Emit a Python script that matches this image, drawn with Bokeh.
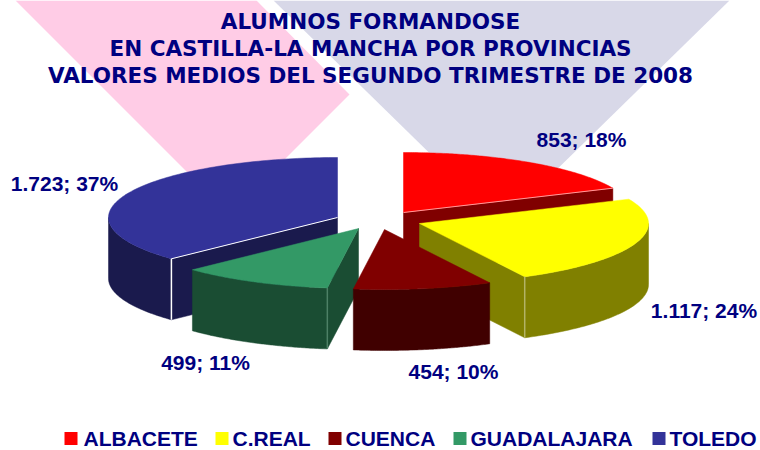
import numpy as np
from bokeh.plotting import figure
from bokeh.models import Range1d
from bokeh.core.properties import value
from bokeh.embed import file_html
from bokeh.resources import INLINE

categories = ["ALBACETE", "C.REAL", "CUENCA", "GUADALAJARA", "TOLEDO"]
values = [853, 1117, 454, 499, 1723]
value_labels = ["853", "1.117", "454", "499", "1.723"]
title_lines = ["ALUMNOS FORMANDOSE",
               "EN CASTILLA-LA MANCHA POR PROVINCIAS",
               "VALORES MEDIOS DEL SEGUNDO TRIMESTRE DE 2008"]

top_colors = ["#FF0000", "#FFFF00", "#800000", "#339966", "#333399"]
side_colors = ["#800000", "#808000", "#400000", "#1A4D33", "#1A1A4D"]
edge_colors = ["#FF9999", "#B3B366", "#400000", "#4D8066", "#FFFFFF"]
apex = [(403, 212), (419, 223), (384, 229), (358, 228), (337, 217)]
label_pos = [(581, 139), (703.5, 310), (453, 371), (205, 362), (64, 183)]
legend_box_x = [64, 215, 328, 453, 652]
legend_text_x = [83, 232, 345, 470, 669]

RX, RY, DEPTH = 229, 60, 61
LEGEND_Y = 438
NAVY = "#000080"
FONT = value("Liberation Sans")
TITLE_FONT = value("DejaVu Sans")

p = figure(width=760, height=450, output_backend="svg", toolbar_location=None,
           x_range=Range1d(0, 760), y_range=Range1d(450, 0),
           min_border=0, outline_line_color=None, margin=(0, 0, 0, 0))
p.xaxis.visible = False
p.yaxis.visible = False
p.grid.visible = False
p.background_fill_color = "#FFFFFF"

# background decoration
p.patch([15, 256, 349, 229], [0, 0, 94, 214], fill_color="#FFCCE6", line_color=None)
p.patch([273, 729, 501], [0, 0, 223], fill_color="#D8D8E8", line_color=None)

# slice angles, clockwise from the top
total = sum(values)
bounds = np.concatenate([[0], np.cumsum(values) / total * 2 * np.pi])


def point(i, t):
    return apex[i][0] + RX * np.sin(t), apex[i][1] - RY * np.cos(t)


def side_arc(i, t0, t1):
    t = np.linspace(t0, t1, 80)
    x, y = point(i, t)
    p.patch(np.r_[x, x[::-1]], np.r_[y, (y + DEPTH)[::-1]],
            fill_color=side_colors[i], line_color=side_colors[i], line_width=0.5)


def cut_face(i, t):
    ax, ay = apex[i]
    x, y = point(i, t)
    p.patch([ax, x, x, ax], [ay, y, y + DEPTH, ay + DEPTH],
            fill_color=side_colors[i], line_color=side_colors[i], line_width=0.5)


def top(i):
    t = np.linspace(bounds[i], bounds[i + 1], 120)
    x, y = point(i, t)
    p.patch(np.r_[apex[i][0], x], np.r_[apex[i][1], y],
            fill_color=top_colors[i], line_color=top_colors[i], line_width=0.5)


def edge_line(i, t, vertical=True, along=True):
    ax, ay = apex[i]
    x, y = point(i, t)
    if along:
        p.line([ax, x], [ay, y], line_color=edge_colors[i], line_width=1)
    if vertical:
        p.line([x, x], [y, y + DEPTH], line_color=edge_colors[i], line_width=1.5)


draw_order = [0, 1, 4, 3, 2]
for i in draw_order:
    t0, t1 = bounds[i], bounds[i + 1]
    lo, hi = max(t0, np.pi / 2), min(t1, 3 * np.pi / 2)
    if hi > lo:
        side_arc(i, lo, hi)
    if i in (0, 1):
        cut_face(i, t1)
    if i in (3, 4):
        cut_face(i, t0)
    top(i)
    if i == 0:
        edge_line(i, t1, vertical=False)
    elif i == 1:
        edge_line(i, t1, along=False)
    elif i == 3:
        edge_line(i, t0, along=False)
    elif i == 4:
        edge_line(i, t0)

# title
p.text(x=[370] * 3, y=[21, 48, 75], text=title_lines, text_font=TITLE_FONT,
       text_font_style="bold", text_font_size="21.5px", text_color=NAVY,
       text_align="center", text_baseline="middle")

# data labels
labels = [f"{v}; {round(n / total * 100)}%" for v, n in zip(value_labels, values)]
p.text(x=[q[0] for q in label_pos], y=[q[1] for q in label_pos], text=labels,
       text_font=FONT, text_font_style="bold", text_font_size="21px",
       text_color=NAVY, text_align="center", text_baseline="middle")

# legend
p.scatter(x=[b + 6.5 for b in legend_box_x], y=[LEGEND_Y] * 5, marker="square", size=13,
          fill_color=top_colors, line_color=None)
p.text(x=legend_text_x, y=[LEGEND_Y] * 5, text=categories, text_font=FONT,
       text_font_style="bold", text_font_size="21px", text_color=NAVY,
       text_align="left", text_baseline="middle")

open("out.html", "w").write(file_html(p, INLINE))
